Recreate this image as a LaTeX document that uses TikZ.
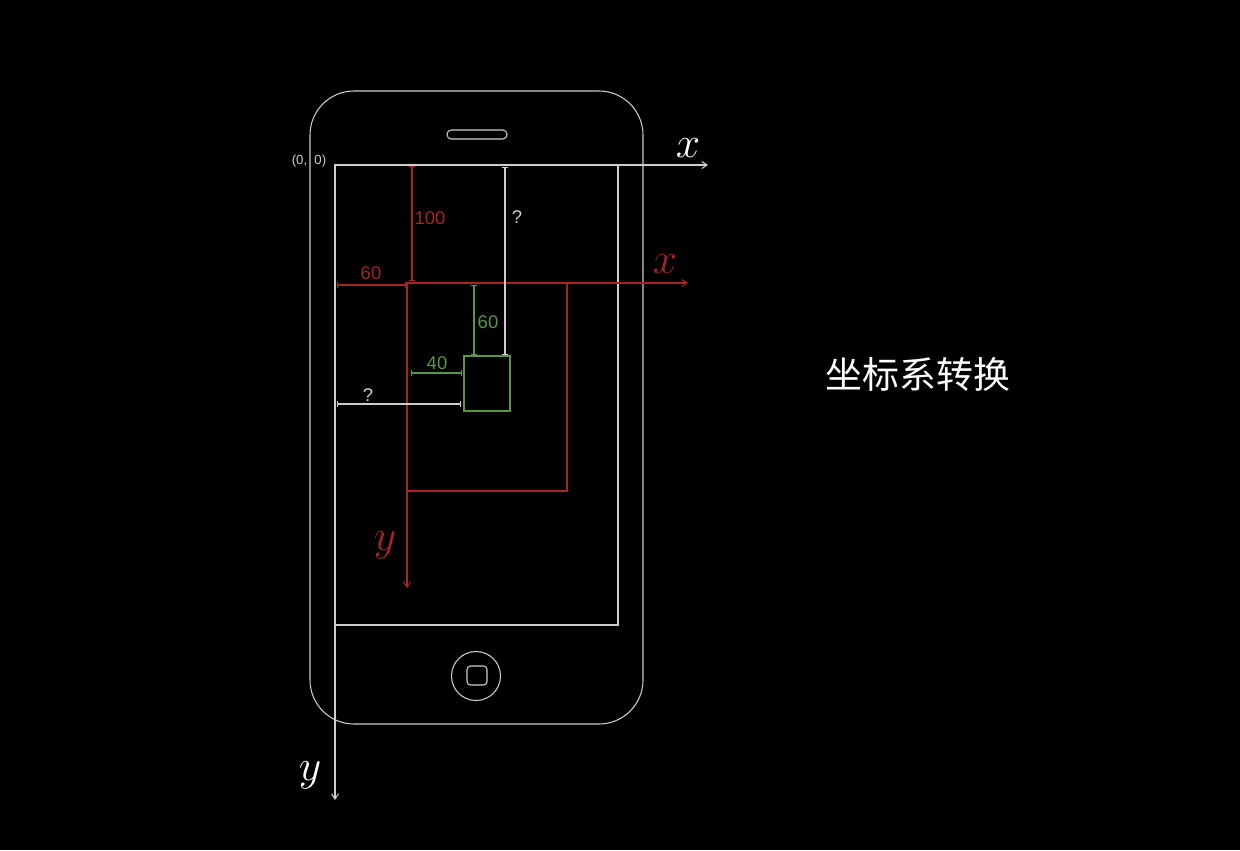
\documentclass[tikz,border=0pt]{standalone}
\usepackage{fontspec}
\setmainfont{Liberation Sans}
\newfontfamily\cjk{Noto Sans CJK SC}
\usetikzlibrary{arrows.meta}
\definecolor{axisred}{RGB}{165,36,36}
\definecolor{boxgreen}{RGB}{90,150,68}
\definecolor{linegray}{RGB}{205,205,205}

\begin{document}
\begin{tikzpicture}[x=0.02cm,y=-0.02cm,
  thinline/.style={line width=0.6pt},
  axisarrow/.style={line width=0.6pt,-{Straight Barb[length=3pt,width=4pt]}},
  dimline/.style={line width=0.6pt,{Bar[width=3.5pt]}-{Bar[width=3.5pt]}},
  dimlabel/.style={font=\fontsize{10.5}{10.5}\selectfont,inner sep=1pt},
  axislabel/.style={font=\fontsize{34}{34}\selectfont,inner sep=0pt}]
  \fill[black] (0,0) rectangle (1240,850);
  \useasboundingbox (0,0) rectangle (1240,850);
  % phone
  \draw[linegray,thinline,rounded corners=0.88cm] (310,91) rectangle (643,724);
  \draw[linegray,thinline,rounded corners=0.085cm] (447,130) rectangle (507,139);
  \coordinate (H) at (476,676);
  \draw[linegray,thinline] (H) circle[radius=24.5];
  \draw[linegray,thinline,rounded corners=0.07cm] (467,666) rectangle (487,685);
  \draw[linegray,thinline] (335,165) rectangle (618,625);
  % white axes
  \coordinate (O) at (335,165);
  \coordinate (OX) at (708,165);
  \coordinate (OY) at (335,800);
  \draw[linegray,axisarrow] (O) -- (OX);
  \draw[linegray,axisarrow] (O) -- (OY);
  \node[axislabel,white] (ox) at (688,148) {$x$};
  \node[axislabel,white] (oy) at (310,775) {$y$};
  \node[linegray,font=\fontsize{7.5}{7.5}\selectfont] (o) at (309,161) {(0,\ \ 0)};
  % red frame
  \coordinate (R) at (407,283);
  \coordinate (RX) at (688,283);
  \coordinate (RY) at (407,588);
  \draw[axisred,thinline] (R) rectangle (567,491);
  \draw[axisred,axisarrow] (R) -- (RX);
  \draw[axisred,axisarrow] (R) -- (RY);
  \node[axislabel,axisred] (rx) at (665,264) {$x$};
  \node[axislabel,axisred] (ry) at (385,545) {$y$};
  % green box
  \draw[boxgreen,thinline] (464,356) rectangle (510,411);
  % dimensions
  \coordinate (A1) at (412,166);  \coordinate (A2) at (412,281);
  \coordinate (B1) at (337,285);  \coordinate (B2) at (406,285);
  \coordinate (C1) at (505,167);  \coordinate (C2) at (505,355);
  \coordinate (D1) at (474,285);  \coordinate (D2) at (474,355);
  \coordinate (E1) at (411,373);  \coordinate (E2) at (462,373);
  \coordinate (F1) at (337,404);  \coordinate (F2) at (461,404);
  \foreach \d/\c in {A/axisred,B/axisred,C/linegray,D/boxgreen,E/boxgreen,F/linegray}
    \draw[\c,dimline] (\d1) -- (\d2);
  \foreach \n/\x/\y/\c/\t in {a/430/218/axisred/100, b/371/273/axisred/60,
                             c/517/217/linegray/?, d/488/322/boxgreen/60,
                             e/437/363/boxgreen/40, f/368/395/linegray/?}
    \node[dimlabel,\c] (\n) at (\x,\y) {\t};
  % title
  \node[white,font=\cjk\fontsize{21}{21}\selectfont] (title) at (918,374) {坐标系转换};
\end{tikzpicture}
\end{document}
